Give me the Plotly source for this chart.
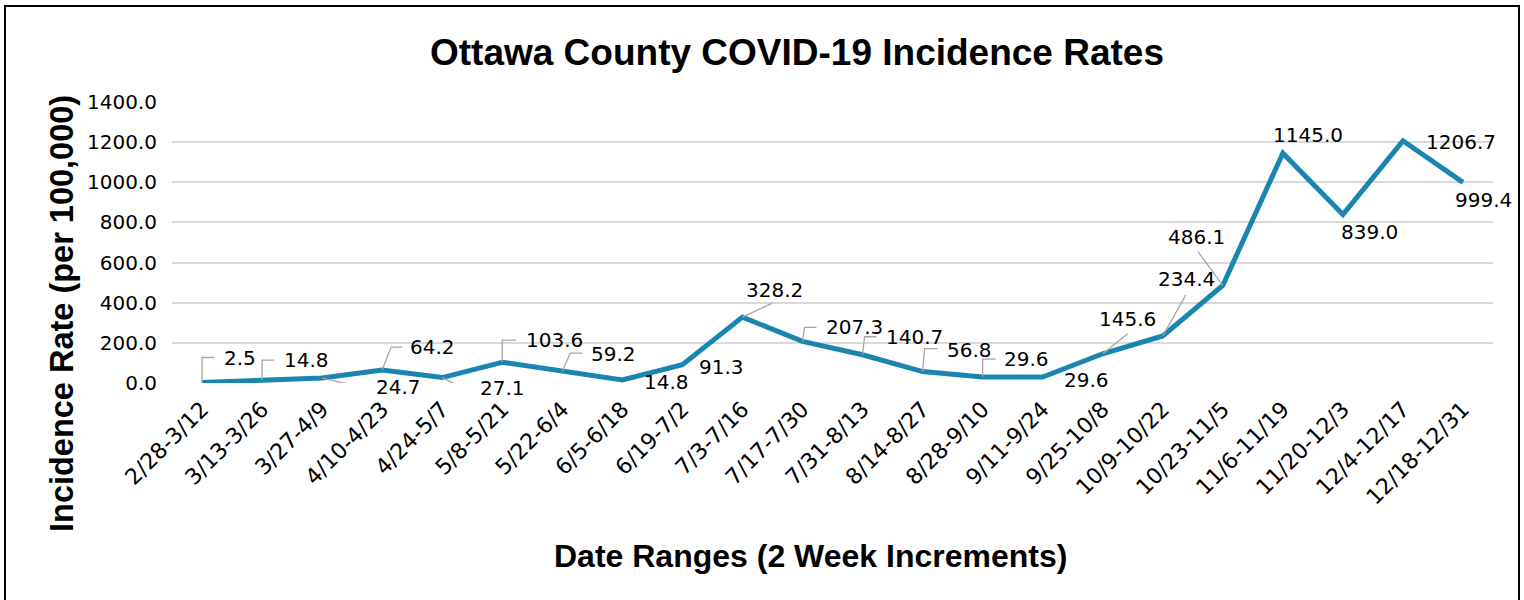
import plotly.graph_objects as go

categories = ["2/28-3/12", "3/13-3/26", "3/27-4/9", "4/10-4/23", "4/24-5/7", "5/8-5/21",
              "5/22-6/4", "6/5-6/18", "6/19-7/2", "7/3-7/16", "7/17-7/30", "7/31-8/13",
              "8/14-8/27", "8/28-9/10", "9/11-9/24", "9/25-10/8", "10/9-10/22", "10/23-11/5",
              "11/6-11/19", "11/20-12/3", "12/4-12/17", "12/18-12/31"]
values = [2.5, 14.8, 24.7, 64.2, 27.1, 103.6, 59.2, 14.8, 91.3, 328.2, 207.3, 140.7,
          56.8, 29.6, 29.6, 145.6, 234.4, 486.1, 1145.0, 839.0, 1206.7, 999.4]
y_ticks = [0, 200, 400, 600, 800, 1000, 1200, 1400]

# label placement (pixel offsets from the point, screen coords: +x right, +y down)
label_offsets = [(38, -25), (44, -20), (76, 9), (50, -23), (60, 10), (52, -22), (51, -17),
                 (44, 2), (39, 2), (32, -27), (52, -14), (52, -18), (47, -22), (44, -18),
                 (44, 3), (25, -35), (24, -57), (-26, -48), (25, -18), (27, 17), (58, 1), (21, 18)]
# leader line vertices (pixel offsets from the point, screen coords)
leaders = [[(0, -25), (12, -25)], [(0, -20), (12, -20)], [(35, 8), (46, 8)],
           [(9, -23), (20, -23)], [(18, 9), (29, 9)], [(0, -22), (14, -22)],
           [(8, -18), (20, -18)], None, None, [(30, -14)], [(2, -14), (14, -14)],
           [(2, -18), (14, -18)], [(2, -23), (15, -23)], [(0, -18), (13, -18)], None,
           [(25, -20)], [(23, -41)], [(-25, -34)], None, None, None, None]

W, H = 1524, 600
L, R, T, B = 172, 31, 102, 217
pw, ph = W - L - R, H - T - B

LINE_COLOR = "#1a85b0"
YTICK_FONT = dict(family="DejaVu Sans", size=20, color="#000000")
XTICK_FONT = dict(family="DejaVu Sans", size=22, color="#000000")
BOLD = "Liberation Sans, Arial, sans-serif"

fig = go.Figure()
fig.add_trace(go.Scatter(x=categories, y=values, mode="lines",
                         line=dict(color=LINE_COLOR, width=5),
                         hoverinfo="skip", showlegend=False))

annotations = []
shapes = []
for i, (c, v) in enumerate(zip(categories, values)):
    dx, dy = label_offsets[i]
    annotations.append(dict(x=c, y=v, xref="x", yref="y", text=f"{v:.1f}",
                            showarrow=False, xshift=dx, yshift=-dy,
                            font=dict(family="DejaVu Sans", size=20, color="#000000")))
    if leaders[i]:
        path = "M0,0 " + " ".join(f"L{px},{-py}" for px, py in leaders[i])
        shapes.append(dict(type="path", xref="x", yref="y", xsizemode="pixel",
                           ysizemode="pixel", xanchor=c, yanchor=v, path=path,
                           line=dict(color="#a6a6a6", width=1.3), layer="above"))

# axis titles
annotations.append(dict(text="<b>Date Ranges (2 Week Increments)</b>", xref="paper", yref="paper",
                        x=(810 - L) / pw, y=(H - B - 556) / ph, xanchor="center", yanchor="middle",
                        showarrow=False, font=dict(family=BOLD, size=32, color="#000000")))
annotations.append(dict(text="<b>Incidence Rate (per 100,000)</b>", xref="paper", yref="paper",
                        x=(62 - L) / pw, y=(H - B - 314) / ph, xanchor="center", yanchor="middle",
                        textangle=-90, showarrow=False,
                        font=dict(family=BOLD, size=32.5, color="#000000")))

# outer chart border
shapes.append(dict(type="rect", xref="paper", yref="paper",
                   x0=(5 - L) / pw, x1=(1519 - L) / pw,
                   y0=(H - B - 603) / ph, y1=(H - B - 6) / ph,
                   line=dict(color="#000000", width=2), fillcolor="rgba(0,0,0,0)", layer="below"))

fig.update_layout(
    width=W, height=H, autosize=False,
    margin=dict(l=L, r=R, t=T, b=B),
    paper_bgcolor="#ffffff", plot_bgcolor="#ffffff",
    title=dict(text="<b>Ottawa County COVID-19 Incidence Rates</b>", x=797 / W, y=1 - 52 / H,
               xref="container", yref="container", xanchor="center", yanchor="middle",
               font=dict(family=BOLD, size=37, color="#000000")),
    xaxis=dict(type="category", range=[-0.5, len(categories) - 0.5], tickangle=-45,
               tickfont=XTICK_FONT, showgrid=False, showline=False, zeroline=False, ticks="",
               ticklabelstandoff=8),
    yaxis=dict(range=[0, 1400], tickvals=y_ticks, tickformat=".1f", tickfont=YTICK_FONT,
               showgrid=True, gridcolor="#d9d9d9", gridwidth=1.5, zeroline=False,
               showline=False, ticks="", ticklabelstandoff=14),
    annotations=annotations, shapes=shapes, showlegend=False,
)

fig.write_html("out.html", config={"displayModeBar": False},
               post_script="document.body.style.margin='0';document.body.style.overflow='hidden';")
